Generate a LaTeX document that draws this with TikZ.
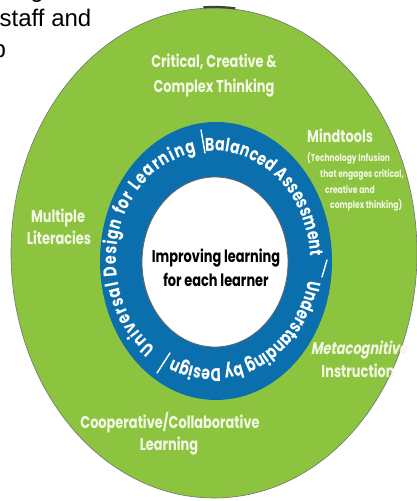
\documentclass[tikz,border=0pt]{standalone}
\usepackage{fontspec}
\setmainfont{Poppins}
\newfontfamily\labfont{Poppins}[FakeStretch=0.76]
\newfontfamily\labslfont{Poppins}[FakeStretch=0.76,FakeSlant=0.18]
\newfontfamily\arialfont{Liberation Sans}
\usetikzlibrary{decorations.text}
\definecolor{ringgreen}{HTML}{8CC43F}
\definecolor{ringblue}{HTML}{0B6FAE}
\definecolor{cream}{HTML}{F3F7E6}
\newcommand\ringfont{\labfont\bfseries\fontsize{18.5}{18.5}\selectfont}
\begin{document}
\begin{tikzpicture}[x=1pt,y=1pt,
  lbl/.style={text=cream, font=\labfont\bfseries\fontsize{17}{20}\selectfont, inner sep=0pt, anchor=base},
  lblsl/.style={text=cream, font=\labslfont\bfseries\fontsize{17}{20}\selectfont, inner sep=0pt, anchor=base},
  small/.style={text=cream, font=\labfont\bfseries\fontsize{10}{12}\selectfont, inner sep=0pt, anchor=base west},
  core/.style={text=black, font=\labfont\bfseries\fontsize{17}{20}\selectfont, inner sep=0pt, anchor=base},
  slide/.style={text=black, font=\arialfont\mdseries\fontsize{24}{28}\selectfont, inner sep=0pt},
  sep/.style={white, line width=1.4pt, line cap=round},
  ringtext/.style={decorate, decoration={text along path, text color=white, text align={fit to path}}}
]
\clip (0,0) rectangle (417,501);
\fill[white] (0,0) rectangle (417,501);

% outer green ellipse
\filldraw[fill=ringgreen, draw=black!55, line width=0.6pt] (214,248) ellipse [x radius=203pt, y radius=245pt];
\draw[black!75, line width=2.2pt] (214,248) ++(93:203pt and 246pt) arc[start angle=93, end angle=84, x radius=203pt, y radius=246pt];

% blue ring and white core
\fill[ringblue] (216,240) ellipse [x radius=116pt, y radius=139pt];
\filldraw[fill=white, draw=black!60, line width=0.8pt] (215,239) ellipse [x radius=73pt, y radius=85pt];

% ring texts
\begin{scope}
\ringfont
\path[ringtext, decoration={text={|\ringfont|Universal Design for Learning}}]
  (213,241) ++(234:97pt and 109pt) arc[start angle=234, end angle=100, x radius=97pt, y radius=109pt];
\path[ringtext, decoration={text={|\ringfont|Balanced Assessment}}]
  (213,241) ++(94.5:97pt and 109pt) arc[start angle=94.5, end angle=2, x radius=97pt, y radius=109pt];
\path[ringtext, decoration={text={|\ringfont|Understanding by Design}}]
  (213,241) ++(-11:97pt and 109pt) arc[start angle=-11, end angle=-113, x radius=97pt, y radius=109pt];
\end{scope}

% separators
\draw[sep] (205,348) -- (201,371);
\draw[sep] (322,224) -- (327,241);
\draw[sep] (157,128) -- (170,148);

% core text
\node[core] (core1) at (216,238) {Improving learning};
\node[core] (core2) at (216,214) {for each learner};

% green labels
\node[lbl] (crit1) at (214,433) {Critical, Creative \&};
\node[lbl] (crit2) at (214,408) {Complex Thinking};
\node[lbl] (mult1) at (58,278) {Multiple};
\node[lbl] (mult2) at (59,256) {Literacies};
\node[lbl, anchor=base west] (mind) at (307,358) {Mindtools};
\node[small] (mind1) at (307,339) {(Technology Infusion};
\node[small] (mind2) at (320,323) {that engages critical,};
\node[small] (mind3) at (325,307) {creative and};
\node[small] (mind4) at (330,292) {complex thinking)};
\node[lblsl] (meta1) at (359,146) {Metacognitive};
\node[lbl] (meta2) at (358,123) {Instruction};
\node[lbl] (coop1) at (170,72) {Cooperative/Collaborative};
\node[lbl] (coop2) at (169,50) {Learning};

% slide text fragments
\node[slide, anchor=base east] (frag1) at (44,503) {ng};
\node[slide, anchor=base west] (frag2) at (-0.5,474) {staff and};
\node[slide, anchor=base west] (frag3) at (-7.5,443) {p};
\end{tikzpicture}
\end{document}
